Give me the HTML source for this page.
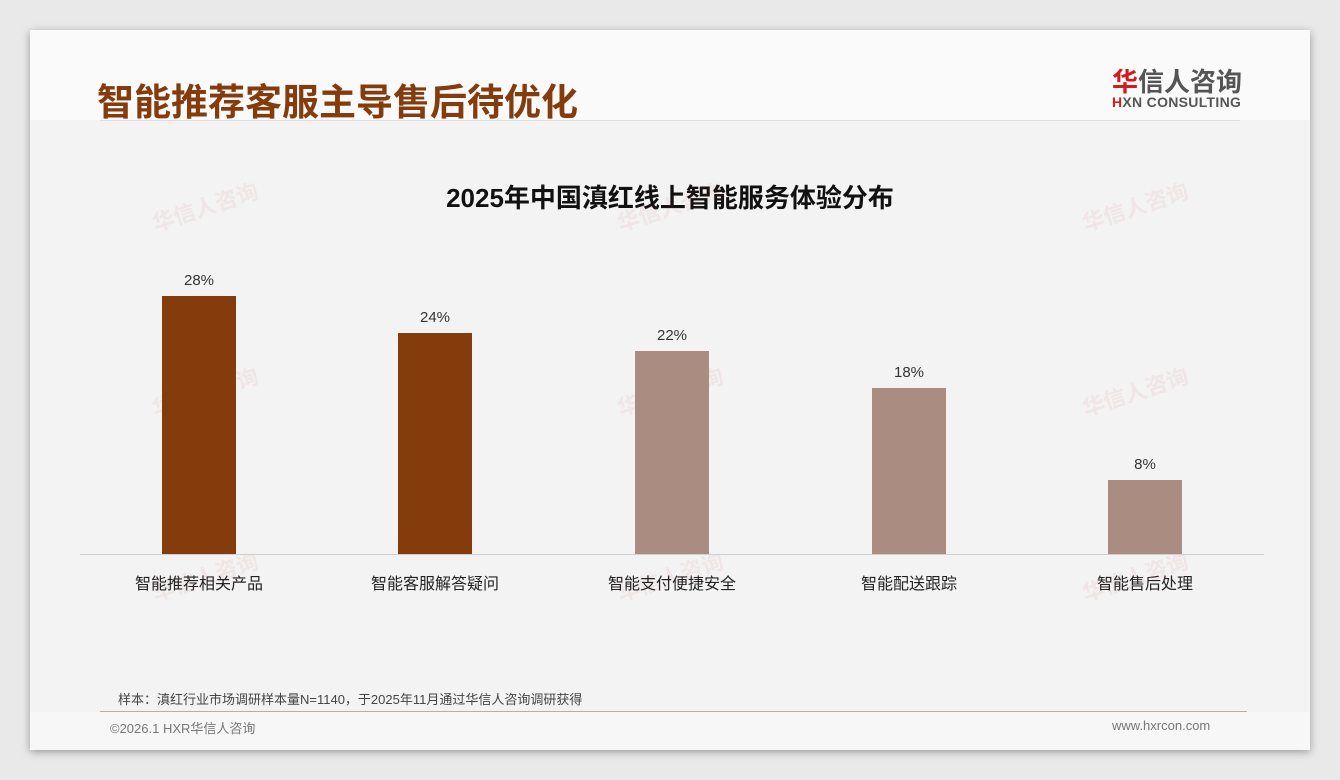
<!DOCTYPE html>
<html><head><meta charset="utf-8"><style>
body{margin:0;width:1340px;height:780px;background:#e9e9e9;font-family:"Liberation Sans","Noto Sans CJK SC",sans-serif;position:relative;overflow:hidden}
.card{position:absolute;left:30px;top:30px;width:1280px;height:720px;background:#f3f3f3;box-shadow:0 2px 8px rgba(0,0,0,.35)}
.top{position:absolute;left:0;top:0;width:1280px;height:90px;background:#fafafa}
.bot{position:absolute;left:0;top:682px;width:1280px;height:38px;background:#f7f7f7}
.a{position:absolute;white-space:nowrap}
.bar{position:absolute;width:74px}
.lbl{position:absolute;width:200px;text-align:center;font-size:16px;color:#222}
.val{position:absolute;width:100px;text-align:center;font-size:15px;color:#333}
.wm{position:absolute;color:rgba(200,80,80,.08);font-weight:bold;font-size:22px;transform:rotate(-18deg)}
</style></head><body>
<div class="card">
<div class="top"></div><div class="bot"></div>
<div class="a" style="left:67px;top:42px;font-size:37px;font-weight:bold;color:#843C0C">智能推荐客服主导售后待优化</div>
<div class="a" style="left:1082px;top:32px;font-size:26px;font-weight:bold;color:#555"><span style="color:#d01c1c">华</span>信人咨询</div>
<div class="a" style="left:1082px;top:64px;font-size:14px;font-weight:bold;color:#555;letter-spacing:.3px"><span style="color:#d01c1c">H</span>XN CONSULTING</div>
<div class="a" style="left:70px;top:90px;width:1140px;height:1px;background:#ddd"></div>
<div class="a" style="left:0;width:1280px;top:148px;text-align:center;font-size:26px;font-weight:bold;color:#111">2025年中国滇红线上智能服务体验分布</div>
<div class="wm" style="left:120px;top:160px">华信人咨询</div><div class="wm" style="left:585px;top:160px">华信人咨询</div><div class="wm" style="left:1050px;top:160px">华信人咨询</div>
<div class="wm" style="left:120px;top:345px">华信人咨询</div><div class="wm" style="left:585px;top:345px">华信人咨询</div><div class="wm" style="left:1050px;top:345px">华信人咨询</div>
<div class="wm" style="left:120px;top:530px">华信人咨询</div><div class="wm" style="left:585px;top:530px">华信人咨询</div><div class="wm" style="left:1050px;top:530px">华信人咨询</div>
<div class="bar" style="left:132px;top:266px;height:258px;background:#843C0C"></div>
<div class="bar" style="left:368px;top:303px;height:221px;background:#843C0C"></div>
<div class="bar" style="left:605px;top:321px;height:203px;background:#AB8C81"></div>
<div class="bar" style="left:842px;top:358px;height:166px;background:#AB8C81"></div>
<div class="bar" style="left:1078px;top:450px;height:74px;background:#AB8C81"></div>
<div class="val" style="left:119px;top:242px">28%</div>
<div class="val" style="left:355px;top:279px">24%</div>
<div class="val" style="left:592px;top:297px">22%</div>
<div class="val" style="left:829px;top:334px">18%</div>
<div class="val" style="left:1065px;top:426px">8%</div>
<div class="a" style="left:50px;top:524px;width:1184px;height:1px;background:#d0d0d0"></div>
<div class="lbl" style="left:69px;top:540px">智能推荐相关产品</div>
<div class="lbl" style="left:305px;top:540px">智能客服解答疑问</div>
<div class="lbl" style="left:542px;top:540px">智能支付便捷安全</div>
<div class="lbl" style="left:779px;top:540px">智能配送跟踪</div>
<div class="lbl" style="left:1015px;top:540px">智能售后处理</div>
<div class="a" style="left:88px;top:659px;font-size:13px;color:#444">样本：滇红行业市场调研样本量N=1140，于2025年11月通过华信人咨询调研获得</div>
<div class="a" style="left:70px;top:681px;width:1147px;height:1px;background:#c9a898"></div>
<div class="a" style="left:80px;top:688px;font-size:13px;color:#777">©2026.1 HXR华信人咨询</div>
<div class="a" style="left:1082px;top:688px;font-size:13px;color:#777">www.hxrcon.com</div>
</div>
</body></html>
